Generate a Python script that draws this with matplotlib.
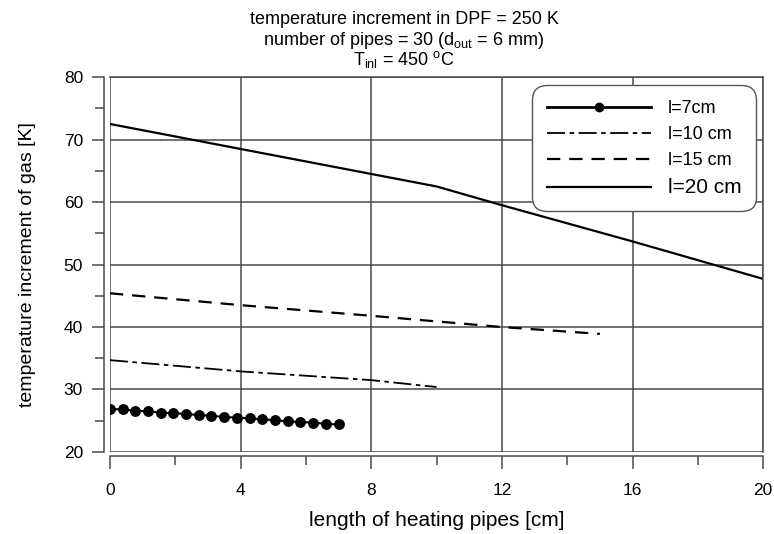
import matplotlib
matplotlib.use("Agg")
import matplotlib.pyplot as plt
import matplotlib.lines as mlines
from matplotlib.ticker import MultipleLocator

plt.rcParams['font.family'] = ['Liberation Sans', 'DejaVu Sans']
plt.rcParams['mathtext.fontset'] = 'custom'
plt.rcParams['mathtext.rm'] = 'Liberation Sans'
plt.rcParams['mathtext.it'] = 'Liberation Sans'

# l = 7 cm (markers)
x7 = [0, 0.39, 0.78, 1.17, 1.56, 1.94, 2.33, 2.72, 3.11, 3.5,
      3.89, 4.28, 4.67, 5.06, 5.44, 5.83, 6.22, 6.61, 7.0]
y7 = [26.9, 26.8, 26.6, 26.5, 26.3, 26.2, 26.1, 25.9, 25.8, 25.6,
      25.5, 25.4, 25.2, 25.1, 24.9, 24.8, 24.7, 24.5, 24.4]
# l = 10 cm
x10 = [0, 4, 8, 10]
y10 = [34.7, 32.9, 31.5, 30.4]
# l = 15 cm
x15 = [0, 4, 8, 12, 15]
y15 = [45.4, 43.5, 41.8, 40.0, 38.9]
# l = 20 cm
x20 = [0, 4, 8, 10, 12, 16, 20]
y20 = [72.5, 68.5, 64.5, 62.5, 59.5, 53.7, 47.7]

labels = ["l=7cm", "l=10 cm", "l=15 cm", "l=20 cm"]

fig = plt.figure(figsize=(7.74, 5.34), dpi=100)
ax = fig.add_axes([0.142, 0.1536, 0.844, 0.702])

gray = "#4a4a4a"

l7, = ax.plot(x7, y7, color="black", lw=1.5, marker="o", markersize=6.8, label=labels[0])
l10, = ax.plot(x10, y10, color="black", lw=1.3, linestyle=(0, (10, 2.5, 2.5, 2.5)), label=labels[1])
l15, = ax.plot(x15, y15, color="black", lw=1.6, linestyle=(0, (6, 4)), label=labels[2])
l20, = ax.plot(x20, y20, color="black", lw=1.6, label=labels[3])

ax.set_xlim(0, 20)
ax.set_ylim(20, 80)
ax.xaxis.set_major_locator(MultipleLocator(4))
ax.xaxis.set_minor_locator(MultipleLocator(2))
ax.yaxis.set_major_locator(MultipleLocator(10))
ax.yaxis.set_minor_locator(MultipleLocator(5))
ax.grid(True, which="major", color=gray, lw=1.1)
ax.set_axisbelow(True)

ax.spines['left'].set_position(('outward', 4.3))
ax.spines['bottom'].set_position(('outward', 3))
for s in ax.spines:
    ax.spines[s].set_color(gray)
    ax.spines[s].set_linewidth(1.1)

ax.tick_params(which="major", length=9, width=1.1, color=gray, labelsize=12.5)
ax.tick_params(which="minor", length=6.5, width=1.1, color=gray)
ax.tick_params(axis="y", which="major", pad=6)
ax.tick_params(axis="x", which="major", pad=10)

ax.set_xlabel("length of heating pipes [cm]", fontsize=15, labelpad=10)
ax.set_ylabel("temperature increment of gas [K]", fontsize=14, labelpad=20)

tx = 0.522
fig.text(tx, 0.963, "temperature increment in DPF = 250 K", ha="center", va="center", fontsize=13)
fig.text(tx, 0.925, r"number of pipes = 30 (d$_{\mathregular{out}}$ = 6 mm)", ha="center", va="center", fontsize=13)
fig.text(tx, 0.888, r"T$_{\mathregular{inl}}$ = 450 $^{\mathregular{o}}$C", ha="center", va="center", fontsize=13)

# legend handle for l=7cm shows one marker in the middle
h7 = mlines.Line2D([], [], color="black", lw=2, marker="o", markersize=6, markevery=[1])
leg = ax.legend([h7, l10, l15, l20], labels, loc="upper right",
                bbox_to_anchor=(0.983, 0.968), fontsize=13, handlelength=5.8,
                labelspacing=0.5, borderpad=0.6, handletextpad=0.9,
                borderaxespad=0, fancybox=True, framealpha=1, edgecolor="#555555")
leg.get_frame().set_linewidth(1.0)
leg.get_frame().set_boxstyle("round", pad=0.2, rounding_size=0.8)
leg.get_texts()[3].set_fontsize(15)

fig.savefig("out.png", dpi=100)
